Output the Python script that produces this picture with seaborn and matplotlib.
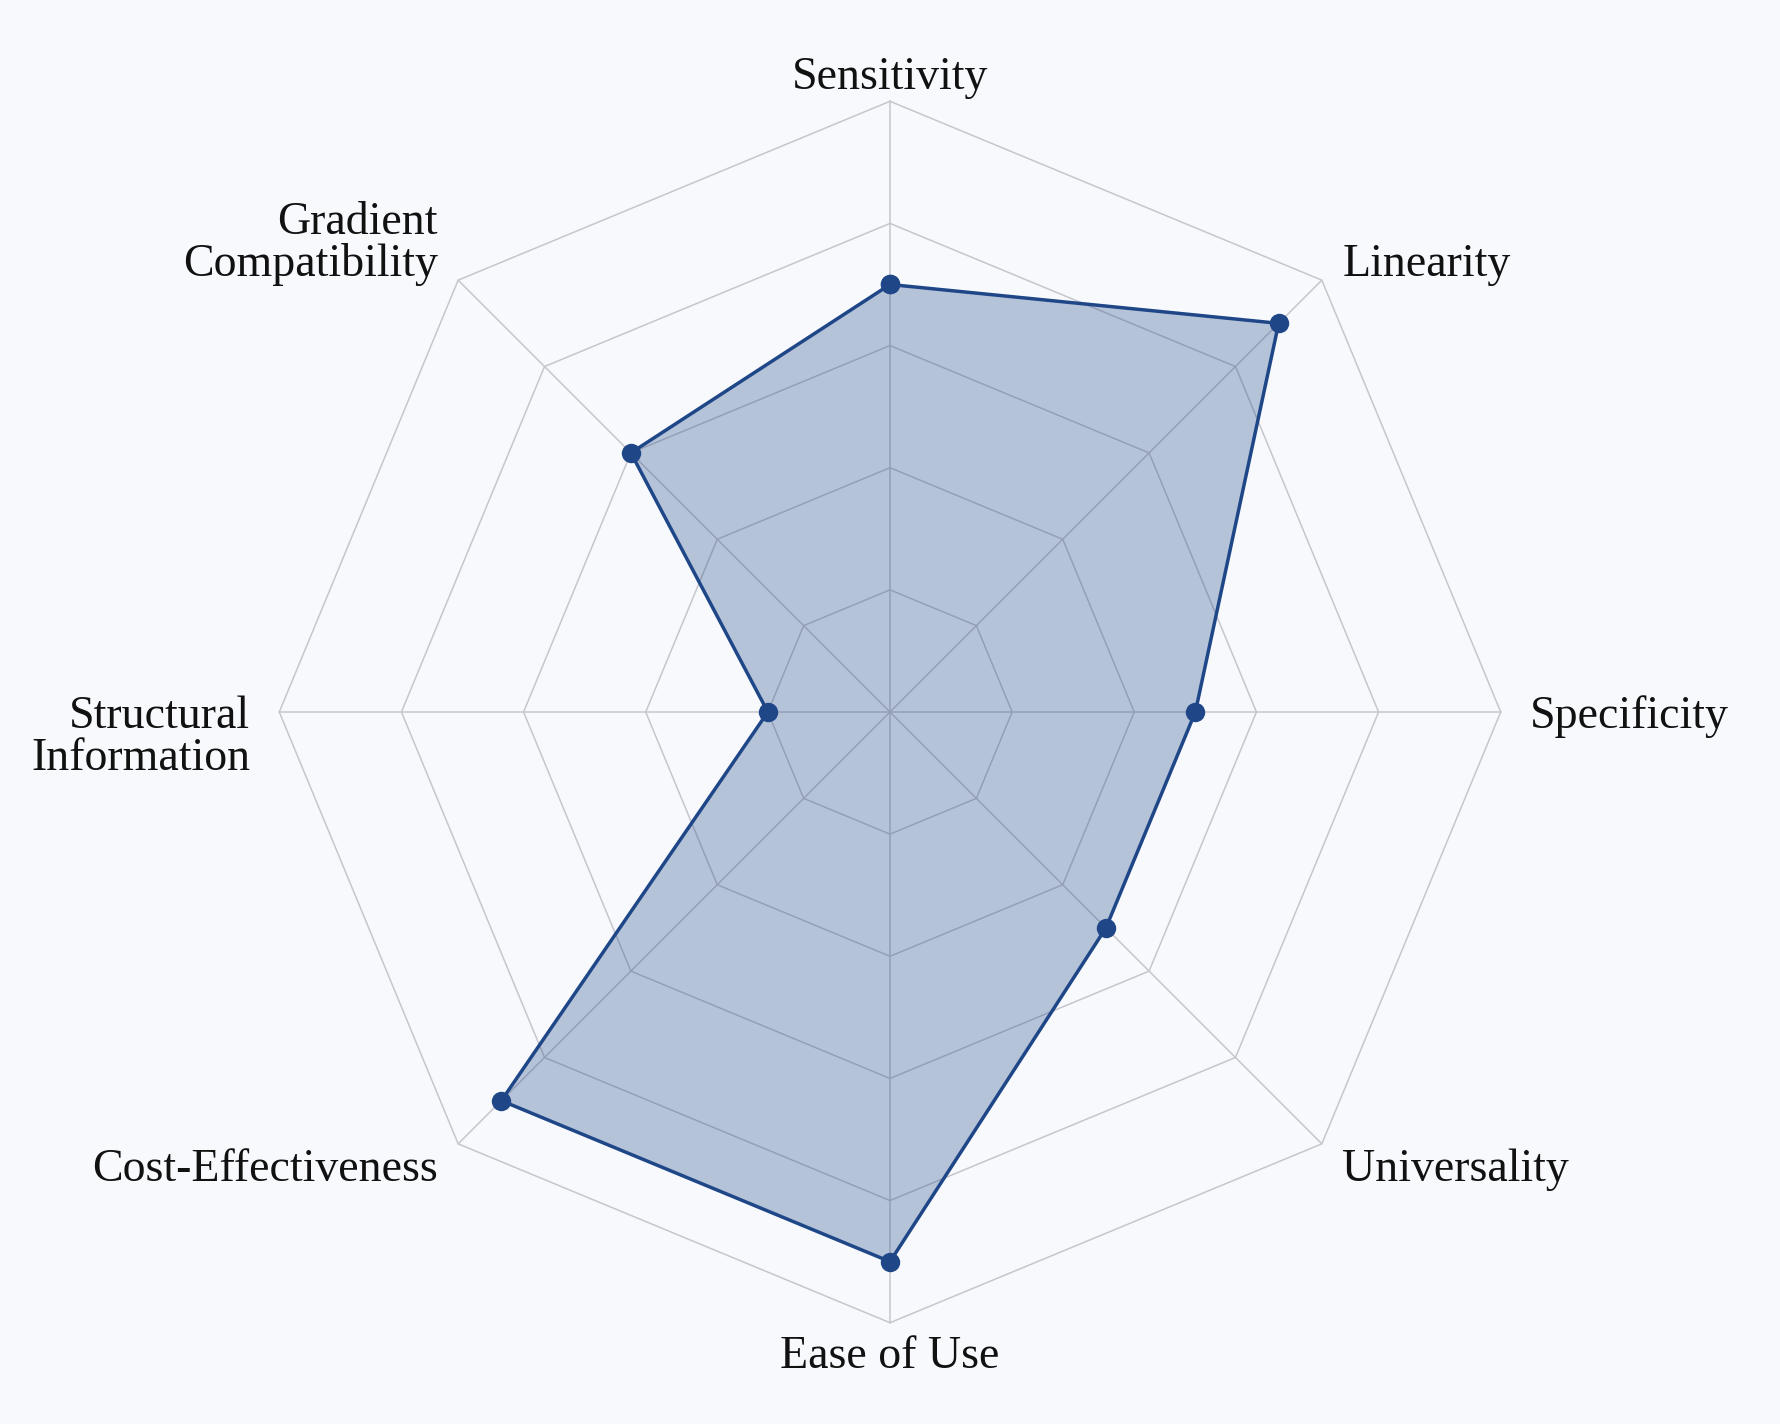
import numpy as np
import pandas as pd
import matplotlib.pyplot as plt
import seaborn as sns

# datos del radar
categories = ["Sensitivity", "Linearity", "Specificity", "Universality",
              "Ease of Use", "Cost-Effectiveness", "Structural\nInformation",
              "Gradient\nCompatibility"]
scores = [3.5, 4.5, 2.5, 2.5, 4.5, 4.5, 1.0, 3.0]
ring_levels = [1, 2, 3, 4, 5]
max_score = 5

BG = "#f7f9fd"
NAVY = "#1f4788"
GRID = "#c6c6cc"

sns.set_style("white")
plt.rcParams['font.family'] = ['Liberation Serif', 'DejaVu Serif']

n = len(categories)
angles = np.linspace(0, 2 * np.pi, n, endpoint=False)

# cerrar el poligono
df = pd.DataFrame({
    'angle': np.append(angles, angles[0]),
    'score': scores + scores[:1],
})

fig = plt.figure(figsize=(17.8, 14.24), dpi=100, facecolor=BG)
ax = fig.add_axes([0.5 - 0.3431, 0.5 - 0.4289, 0.6862, 0.8578], projection='polar')
ax.set_facecolor(BG)
ax.patch.set_alpha(0)
ax.set_theta_offset(np.pi / 2)
ax.set_theta_direction(-1)
ax.set_ylim(0, max_score)
ax.grid(False)
ax.spines['polar'].set_visible(False)

# rejilla poligonal
closed = np.append(angles, angles[0])
for lvl in ring_levels:
    ax.plot(closed, [lvl] * len(closed), color=GRID, lw=1.1, zorder=1, clip_on=False)
for a in angles:
    ax.plot([a, a], [0, max_score], color=GRID, lw=1.1, zorder=1, clip_on=False)

# relleno + linea
ax.fill(df['angle'], df['score'], color=NAVY, alpha=0.3, lw=0, zorder=2)
sns.lineplot(data=df, x='angle', y='score', sort=False, estimator=None,
             color=NAVY, lw=2.5, marker='o', markersize=14, markeredgewidth=0,
             ax=ax, zorder=3, clip_on=False)
ax.set_xlabel('')
ax.set_ylabel('')
ax.set_xticks([])
ax.set_yticks([])

# etiquetas de los ejes (una linea cada vez)
off = 29
line_px = 42
for a, lab in zip(angles, categories):
    s, c = np.sin(a), np.cos(a)
    dx, dy = off * s, off * c
    lines = lab.split('\n')
    if s > 0.1:
        ha = 'left'
    elif s < -0.1:
        ha = 'right'
    else:
        ha = 'center'
    for i, txt in enumerate(lines):
        if c > 0.1:
            ly = dy + (len(lines) - 1 - i) * line_px
        else:
            ly = dy - i * line_px
        ax.annotate(txt, xy=(a, max_score), xytext=(dx, ly), textcoords='offset pixels',
                    ha=ha, va='center_baseline', fontsize=33, color='#111111',
                    annotation_clip=False)

fig.savefig('out.png', dpi=100, facecolor=BG)
